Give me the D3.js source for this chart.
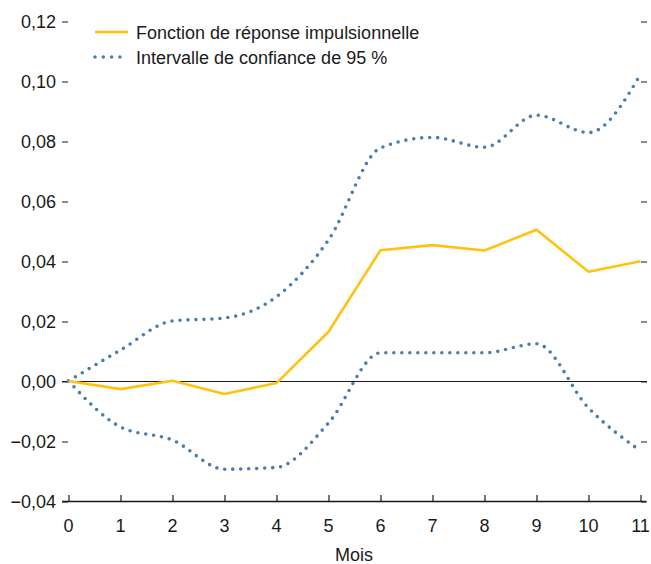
<!DOCTYPE html>
<html><head><meta charset="utf-8">
<script src="https://cdn.jsdelivr.net/npm/d3@7"></script>
<style>
body{margin:0;background:#fff;}
text{font-family:"Liberation Sans Narrow","Arial Narrow","Liberation Sans",sans-serif;fill:#1a1a1a;}
</style></head>
<body><svg id="c" width="651" height="564"></svg>
<script>
const months = [0,1,2,3,4,5,6,7,8,9,10,11];
const irf   = [0, -0.0027, 0.0001, -0.0043, -0.0007, 0.0164, 0.0436, 0.0453, 0.0435, 0.0504, 0.0364, 0.0399];
const upper = [0, 0.0103, 0.0200, 0.0210, 0.0281, 0.0470, 0.0777, 0.0812, 0.0779, 0.0886, 0.0828, 0.1022];
const lower = [0, -0.0153, -0.0197, -0.0294, -0.0288, -0.0140, 0.0094, 0.0094, 0.0094, 0.0124, -0.0090, -0.0233];
const yTicks = [-0.04,-0.02,0,0.02,0.04,0.06,0.08,0.10,0.12];
const legendLabels = ["Fonction de réponse impulsionnelle","Intervalle de confiance de 95 %"];
const xTitle = "Mois";

const svg = d3.select("#c");
const x = d3.scaleLinear().domain([0,11]).range([68.5,640.5]);
const y = d3.scaleLinear().domain([-0.04,0.12]).range([501,21]);
const fmt = d => d3.format(".2f")(d).replace(".",",").replace("-","\u2013");
const blue = "#4a7db0", yellow = "#ffc20e";
const fs = "18px";

// left y ticks
const gl = svg.append("g").attr("transform","translate(68,0.5)")
  .call(d3.axisLeft(y).tickValues(yTicks).tickSize(6).tickPadding(6).tickFormat(fmt));
gl.select(".domain").remove();
gl.selectAll("text").style("font-size",fs).attr("dy","0.34em");
gl.selectAll("line").attr("stroke","#1a1a1a");
// right y ticks
const gr = svg.append("g").attr("transform","translate(641,0.5)")
  .call(d3.axisRight(y).tickValues(yTicks).tickSize(6).tickFormat(""));
gr.select(".domain").remove();
gr.selectAll("line").attr("stroke","#1a1a1a");

// zero line
svg.append("line").attr("x1",62).attr("x2",647).attr("y1",y(0)+0.5).attr("y2",y(0)+0.5)
  .attr("stroke","#1a1a1a").attr("stroke-width",1);

// x axis
const gx = svg.append("g").attr("transform",`translate(0,${y(-0.04)})`)
  .call(d3.axisTop(x).tickValues(months).tickSize(6).tickFormat(""));
gx.select(".domain").remove();
gx.selectAll("line").attr("stroke","#1a1a1a").attr("stroke-width",1.2);
svg.append("line").attr("x1",62).attr("x2",646).attr("y1",y(-0.04)+0.5).attr("y2",y(-0.04)+0.5)
  .attr("stroke","#1a1a1a").attr("stroke-width",1.5);
svg.append("g").selectAll("text").data(months).join("text")
  .attr("x",d=>x(d)).attr("y",532).attr("text-anchor","middle")
  .style("font-size",fs).text(d=>d);
svg.append("text").attr("x",354).attr("y",561).attr("text-anchor","middle")
  .style("font-size",fs).text(xTitle);

// lines
const lineS = d3.line().x((d,i)=>x(months[i])).y(d=>y(d)).curve(d3.curveMonotoneX);
[upper,lower].forEach(s=>{
  svg.append("path").datum(s).attr("d",lineS).attr("fill","none")
    .attr("stroke",blue).attr("stroke-width",3.6).attr("stroke-linecap","round")
    .attr("stroke-dasharray","0,8");
});
const lineL = d3.line().x((d,i)=>x(months[i])).y(d=>y(d));
svg.append("path").datum(irf).attr("d",lineL).attr("fill","none")
  .attr("stroke",yellow).attr("stroke-width",2.6).attr("stroke-linejoin","round");

// legend
const lg = svg.append("g");
lg.append("line").attr("x1",95).attr("x2",128).attr("y1",32).attr("y2",32)
  .attr("stroke",yellow).attr("stroke-width",2.6);
lg.append("line").attr("x1",95).attr("x2",128).attr("y1",57).attr("y2",57)
  .attr("stroke",blue).attr("stroke-width",3.6).attr("stroke-linecap","round")
  .attr("stroke-dasharray","0,8.3");
lg.append("text").attr("x",136).attr("y",39).style("font-size",fs).text(legendLabels[0]);
lg.append("text").attr("x",136).attr("y",64).style("font-size",fs).text(legendLabels[1]);
</script></body></html>
